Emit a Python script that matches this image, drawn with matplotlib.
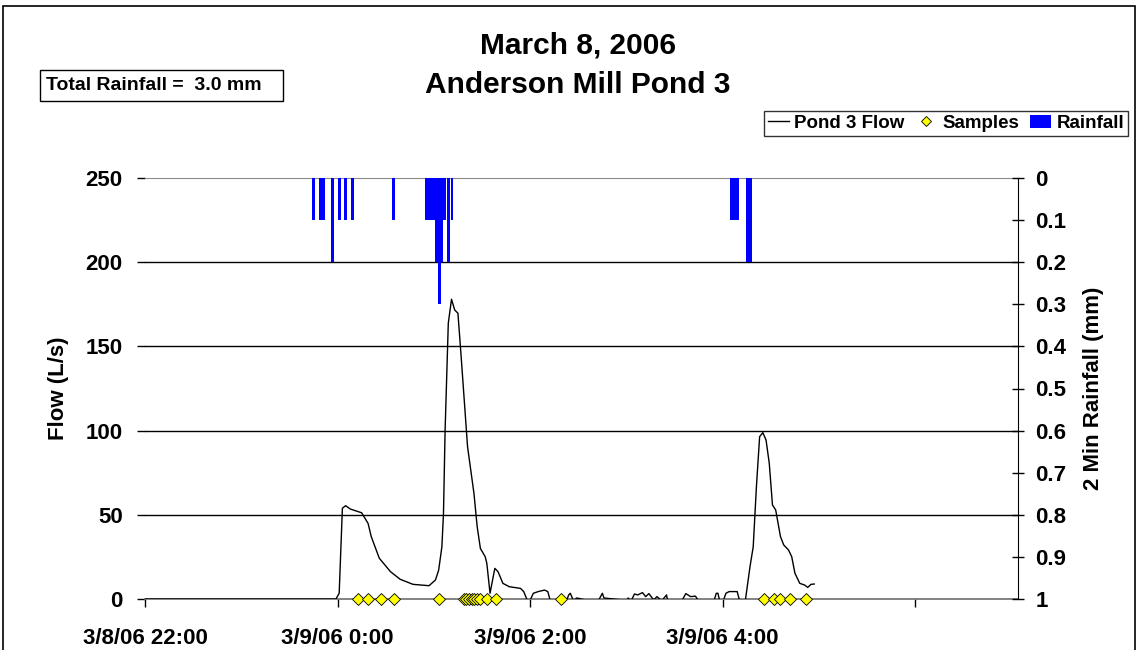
import matplotlib
matplotlib.use("Agg")
import matplotlib.pyplot as plt
import pandas as pd
from matplotlib.lines import Line2D
from matplotlib.patches import Patch, Rectangle

plt.rcParams['font.family'] = ['Liberation Sans', 'DejaVu Sans']
plt.rcParams['font.weight'] = 'bold'

# pond 3 outflow, L/s
flow_time = ['2006-03-08 22:00', '2006-03-08 23:59',
             '00:01', '00:03', '00:05', '00:08', '00:15', '00:19', '00:21', '00:26',
             '00:33', '00:39', '00:47', '00:57', '01:01', '01:03', '01:05', '01:06',
             '01:07', '01:09', '01:11', '01:13', '01:15', '01:17', '01:21', '01:25',
             '01:27', '01:29', '01:32', '01:33', '01:35', '01:38', '01:40', '01:43',
             '01:47', '01:54', '01:56', '01:59', '02:02', '02:05', '02:09', '02:11',
             '02:13', '02:17', '02:22', '02:24', '02:25', '02:27', '02:29', '02:35',
             '02:37', '02:40', '02:41', '02:45', '02:46', '02:48', '02:58', '03:00',
             '03:01', '03:03', '03:05', '03:07', '03:10', '03:12', '03:14', '03:17',
             '03:19', '03:22', '03:25', '03:26', '03:29', '03:33', '03:37', '03:40',
             '03:43', '03:46', '03:54', '03:56', '03:57', '03:59', '04:02', '04:04',
             '04:09', '04:11', '04:14', '04:17', '04:19', '04:21', '04:23', '04:25',
             '04:27', '04:29', '04:31', '04:33', '04:36', '04:38', '04:41', '04:43',
             '04:45', '04:48', '04:51', '04:53', '04:55', '04:57']
flow_lps = [0, 0,
            3.4, 53.9, 55.4, 53.4, 51.2, 44.9, 37.0, 24.2,
            16.2, 11.7, 8.7, 7.9, 11.3, 17.2, 31.0, 50.9,
            100.0, 163.8, 178.0, 171.6, 169.7, 144.0, 90.4, 62.6,
            42.9, 30.0, 25.1, 21.2, 3.4, 18.2, 16.2, 9.3,
            7.3, 6.3, 4.4, -2.7, 3.4, 4.4, 5.3, 4.4,
            -2.7, -5.0, -2.7, 2.4, 3.4, -1.0, 0.6, -0.6,
            -2.7, -1.0, -3.7, 3.4, 0.6, 0.4, -0.6, -2.7,
            0.6, -1.0, 3.0, 2.4, 3.8, 1.4, 3.2, -0.6,
            1.4, -1.0, 2.4, -2.7, -1.6, -3.7, 3.2, 1.4,
            1.7, -2.7, -2.7, 3.4, 3.4, -4.7, 3.4, 4.4,
            4.4, -2.7, -1.6, 19.2, 31.0, 66.7, 96.4, 98.8,
            94.4, 80.6, 55.8, 52.9, 37.0, 32.1, 29.1, 25.1,
            15.3, 9.3, 8.3, 6.9, 8.7, 8.9]

# autosampler aliquot times
sample_time = ['00:13', '00:19', '00:27', '00:35', '01:03', '01:19', '01:20', '01:22',
               '01:24', '01:25', '01:27', '01:29', '01:33', '01:39', '02:19',
               '04:26', '04:32', '04:36', '04:42', '04:52']

# 2 minute rain gauge totals, mm
rain_time = ['2006-03-08 23:45:00', '2006-03-08 23:49:18', '2006-03-08 23:51:12',
             '2006-03-08 23:57:06', '00:01:18', '00:04:54', '00:09:00', '00:35:06',
             '00:55:12', '00:56:48', '00:58:18', '01:00:00', '01:01:42', '01:03:24',
             '01:05:00', '01:06:42', '01:09:18', '01:11:18',
             '04:05:42', '04:07:24', '04:09:18', '04:15:30', '04:17:36']
rain_mm = [0.1, 0.1, 0.1, 0.2, 0.1, 0.1, 0.1, 0.1,
           0.1, 0.1, 0.1, 0.1, 0.2, 0.3, 0.2, 0.1, 0.2, 0.1,
           0.1, 0.1, 0.1, 0.2, 0.2]

x_ticks = ['2006-03-08 22:00', '2006-03-09 00:00', '2006-03-09 02:00',
           '2006-03-09 04:00', '2006-03-09 06:00']
x_labels = ['3/8/06 22:00', '3/9/06 0:00', '3/9/06 2:00', '3/9/06 4:00', '']


def stamp(t):
    if len(t) > 8:
        return pd.Timestamp(t)
    return pd.Timestamp('2006-03-09 ' + t)


ft = [stamp(t) for t in flow_time]
st = [stamp(t) for t in sample_time]
rt = [stamp(t) for t in rain_time]

fig = plt.figure(figsize=(11.38, 6.5), dpi=100)
W, H = 1138.0, 650.0
ax = fig.add_axes([145 / W, 51 / H, 873 / W, 421 / H])

ax.plot(ft, flow_lps, color='black', lw=1.0, zorder=3)
ax.plot(st, [0] * len(st), ls='none', marker='D', ms=6, mfc='#FFFF00',
        mec='black', mew=0.6, zorder=4, clip_on=False)

ax.set_ylim(0, 250)
ax.set_yticks([0, 50, 100, 150, 200, 250])
ax.set_xlim(pd.Timestamp('2006-03-08 22:00'), pd.Timestamp('2006-03-09 07:04'))
ax.set_xticks([pd.Timestamp(t) for t in x_ticks])
ax.set_xticklabels(x_labels)
for y in [50, 100, 150, 200]:
    ax.axhline(y, color='black', lw=1.0, zorder=1)

ax.spines['left'].set_visible(False)
ax.spines['right'].set_visible(False)
ax.spines['top'].set_color('#8c8c8c')
ax.spines['bottom'].set_color('#6e6e6e')
ax.spines['bottom'].set_linewidth(1.2)
ax.tick_params(axis='y', direction='out', length=6, width=1, pad=10, labelsize=16)
ax.tick_params(axis='x', direction='out', length=6, width=1, pad=15, labelsize=16)
ax.set_ylabel('Flow (L/s)', fontsize=16, fontweight='bold', labelpad=12)

ax2 = ax.twinx()
ax2.bar(rt, rain_mm, width=1.85 / 1440, color='#0000FF', align='center', zorder=2)
ax2.set_ylim(1, 0)
ax2.set_yticks([i / 10 for i in range(11)])
ax2.set_yticklabels(['0', '0.1', '0.2', '0.3', '0.4', '0.5', '0.6', '0.7', '0.8', '0.9', '1'])
ax2.tick_params(axis='y', direction='inout', length=9, width=1, pad=8, labelsize=16)
for s in ['left', 'top', 'bottom']:
    ax2.spines[s].set_visible(False)
ax2.spines['right'].set_color('black')
ax2.set_ylabel('2 Min Rainfall (mm)', fontsize=16, fontweight='bold', labelpad=12)

fig.text(578 / W, 1 - 45 / H, 'March 8, 2006', ha='center', va='center',
         fontsize=21.5, fontweight='bold')
fig.text(578 / W, 1 - 85 / H, 'Anderson Mill Pond 3', ha='center', va='center',
         fontsize=21.5, fontweight='bold')

# total rainfall box
fig.patches.append(Rectangle((40 / W, 1 - 101 / H), 243 / W, 31 / H,
                             transform=fig.transFigure, fill=False,
                             edgecolor='black', lw=1.0))
fig.text(46 / W, 1 - 86 / H, 'Total Rainfall =  3.0 mm', ha='left', va='center',
         fontsize=14, fontweight='bold')

# outer chart border
fig.patches.append(Rectangle((3 / W, -0.05), 1132 / W, 1.05 - 6 / H,
                             transform=fig.transFigure, fill=False,
                             edgecolor='black', lw=1.2))

handles = [Line2D([], [], color='black', lw=1.0),
           Line2D([], [], ls='none', marker='D', ms=5, mfc='#FFFF00', mec='black', mew=0.6),
           Patch(facecolor='#0000FF')]
leg = fig.legend(handles, ['Pond 3 Flow', 'Samples', 'Rainfall'], ncol=3,
                 loc='upper right', bbox_to_anchor=(1128 / W, 1 - 111 / H),
                 prop={'size': 13.5, 'weight': 'bold'}, frameon=True, fancybox=False,
                 edgecolor='black', handlelength=1.1, handletextpad=0.3,
                 columnspacing=0.6, borderpad=0.2, borderaxespad=0)
leg.get_frame().set_linewidth(1.0)

fig.savefig('out.png', dpi=100)
